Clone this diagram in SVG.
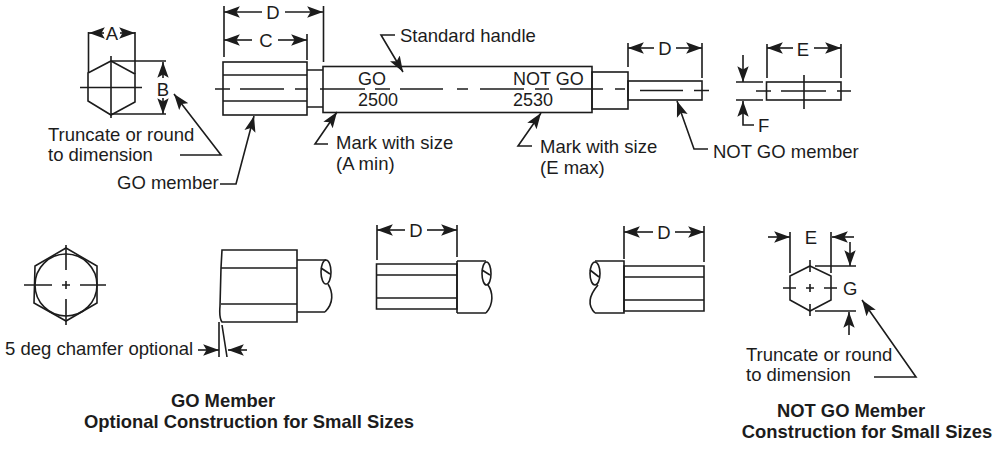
<svg xmlns="http://www.w3.org/2000/svg" width="1006" height="450" viewBox="0 0 1006 450">
<style>
text{font-family:"Liberation Sans",Arial,sans-serif;font-size:18.500px;fill:#1c1c1c}
.c{text-anchor:middle}
.n{font-size:18px}
.b{font-weight:bold;font-size:18.400px;text-anchor:middle}
path,line,rect,circle,ellipse{fill:none;stroke:#1c1c1c;stroke-width:1.600}
.a{marker-end:url(#arr)}
</style>
<defs>
<marker id="arr" markerUnits="userSpaceOnUse" markerWidth="17" markerHeight="12" refX="14" refY="5" orient="auto" viewBox="0 0 15 10">
<path d="M0 0L14 5L0 10L3 5Z" style="fill:#1c1c1c;stroke:none"/>
</marker>
</defs>
<rect x="0" y="0" width="1006" height="450" style="fill:#fff;stroke:none"/>

<g id="hex-top-left">
<path d="M111 61L135 74V102L111 115L88 101V73Z"/>
<path d="M80 87.500H142M111 56V118"/>
<path d="M88.500 32V73M135 32V74M111 61H166M111 114H166"/>
<text class="c" x="112" y="40">A</text>
<text class="c" x="163" y="96">B</text>
</g>
<g id="go-member-top">
<rect x="223" y="62" width="84" height="53"/>
<path d="M223 75H307M223 101H307M307 70H323M307 107H323"/>
<path d="M224 6V57M323.500 6V62M307 34V60"/>
<text class="c" x="273" y="19">D</text>
<text class="c" x="266" y="47">C</text>
</g>
<g id="handle">
<rect x="323" y="66.500" width="269" height="46"/>
<text class="n" x="358" y="85">GO</text>
<text class="n" x="358" y="106">2500</text>
<text class="n" x="513" y="85">NOT GO</text>
<text class="n" x="513" y="106">2530</text>
</g>
<g id="not-go-member-top">
<rect x="592" y="72" width="36" height="37"/>
<rect x="628" y="81" width="74" height="19"/>
<path d="M628 43V67M702 43V78"/>
<text class="c" x="665" y="55">D</text>
</g>
<g id="not-go-end">
<rect x="766.500" y="82" width="74.500" height="18"/>
<path d="M736 82H763M736 100H763M767 44V78M841 44V78M804 75V109"/>
<path d="M756 91H771M781 91H826M837 91H851"/>
<text class="c" x="803" y="56">E</text>
<text x="758" y="132">F</text>
</g>
<g id="hex-bottom-left">
<path d="M66 248L97 266V303L66 321L34 303L35 266Z"/>
<circle cx="66" cy="285" r="31"/>
<path d="M24 285H52M80 285H106M62 285H70M66 281V289M66 245V270M66 299V325"/>
</g>
<g id="go-chamfer">
<path d="M222 250H297V322H222Q219 318 220 306L221 268L222 250ZM221 268H297M221 304H297"/>
<path d="M297 260H326M297 312H325"/>
<ellipse cx="326" cy="272" rx="5" ry="12"/>
<path d="M321 268L330 274M328 284C333 292 334 303 325 312"/>
<path d="M219 322V357M222 325L227 357"/>
</g>
<g id="go-small">
<path d="M376.500 264H457V309H376.500ZM376.500 275H457M376.500 298H457"/>
<path d="M457 261H486M457 313H486M457 261V313"/>
<ellipse cx="486.500" cy="273.500" rx="4.500" ry="11.500"/>
<path d="M482 270L490 275M488 285C493 292 494 304 486 313"/>
<path d="M377 225V260M457 225V257"/>
<text class="c" x="416" y="237">D</text>
</g>
<g id="not-go-small">
<path d="M624 266H704V311H624ZM624 277H704M624 300H704"/>
<path d="M595 261H624V313H595"/>
<ellipse cx="595" cy="273.500" rx="5" ry="11.500"/>
<path d="M590 270L599 277M598 285C592 292 585 303 595 313"/>
<path d="M624 226V259M704 226V262"/>
<text class="c" x="664" y="239">D</text>
</g>
<g id="hex-not-go">
<path d="M810 266L831 276V300L810 311L790 300V276Z"/>
<path d="M783 288H796M824 288H837M806 288H814M810 284V292M810 260V272M810 304V316"/>
<path d="M790 232V273M831 232V273M815 266H856M815 311H856"/>
<text class="c" x="811" y="244">E</text>
<text x="843" y="295">G</text>
</g>

<g id="connectors">
<path d="M215 89H230M240 89H284M295 89H308M320 89H365M375 89H390M400 89H443M457 89H468M480 89H524M535 89H549M560 89H603M615 89H625M640 90.500H683M694 90.500H709"/>
<line class="a" x1="104" y1="33" x2="89" y2="33"/>
<line class="a" x1="120" y1="33" x2="135" y2="33"/>
<line class="a" x1="163" y1="78" x2="163" y2="62"/>
<line class="a" x1="163" y1="98" x2="163" y2="114"/>
<line class="a" x1="262" y1="12" x2="224" y2="12"/>
<line class="a" x1="285" y1="12" x2="323" y2="12"/>
<line class="a" x1="252" y1="40" x2="224" y2="40"/>
<line class="a" x1="278" y1="40" x2="307" y2="40"/>
<line class="a" x1="654" y1="48" x2="628" y2="48"/>
<line class="a" x1="676" y1="48" x2="702" y2="48"/>
<line class="a" x1="793" y1="48" x2="767" y2="48"/>
<line class="a" x1="814" y1="48" x2="841" y2="48"/>
<line class="a" x1="743" y1="55" x2="743" y2="82"/>
<path class="a" d="M754 125H743V101"/>
<path class="a" d="M180 155H221L174 94"/>
<path class="a" d="M220 184H236L254 116"/>
<path class="a" d="M395 35H381L403 72"/>
<path class="a" d="M328 144H315L337 112"/>
<path class="a" d="M532 146H518L541 113"/>
<path class="a" d="M708 149H694L677 101"/>
<line class="a" x1="198" y1="350" x2="219" y2="350"/>
<line class="a" x1="247" y1="350" x2="228" y2="350"/>
<line class="a" x1="405" y1="230" x2="377" y2="230"/>
<line class="a" x1="427" y1="230" x2="457" y2="230"/>
<line class="a" x1="653" y1="232" x2="624" y2="232"/>
<line class="a" x1="675" y1="232" x2="704" y2="232"/>
<line class="a" x1="768" y1="237" x2="790" y2="237"/>
<line class="a" x1="854" y1="237" x2="832" y2="237"/>
<line class="a" x1="850" y1="242" x2="850" y2="266"/>
<line class="a" x1="849" y1="335" x2="849" y2="312"/>
<path class="a" d="M874 377H916L862 300"/>
</g>

<g id="labels">
<text x="48" y="141">Truncate or round</text>
<text x="48" y="161">to dimension</text>
<text x="117" y="189">GO member</text>
<text x="400" y="42">Standard handle</text>
<text x="336" y="149">Mark with size</text>
<text x="336" y="170">(A min)</text>
<text x="540" y="153">Mark with size</text>
<text x="540" y="174">(E max)</text>
<text x="713" y="158">NOT GO member</text>
<text x="5" y="355">5 deg chamfer optional</text>
<text x="746" y="361">Truncate or round</text>
<text x="746" y="381">to dimension</text>
<text class="b" x="223" y="407">GO Member</text>
<text class="b" x="249" y="428">Optional Construction for Small Sizes</text>
<text class="b" x="851" y="417">NOT GO Member</text>
<text class="b" x="867" y="438">Construction for Small Sizes</text>
</g>
</svg>
